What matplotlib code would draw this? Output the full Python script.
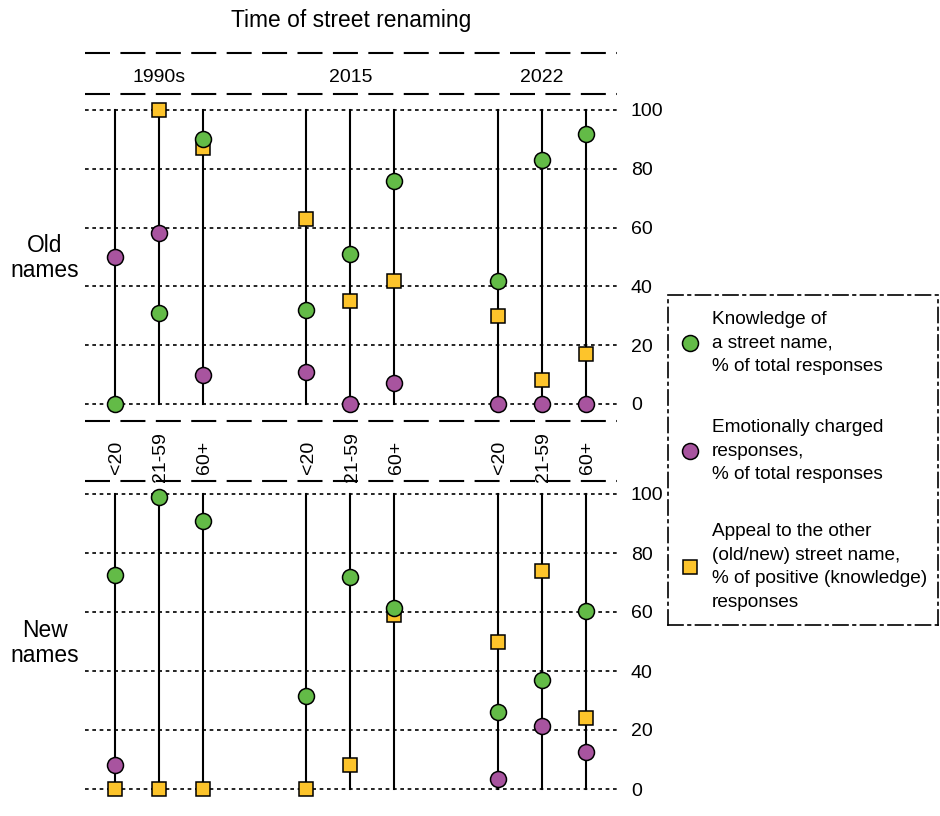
import numpy as np
import matplotlib
matplotlib.use("Agg")
import matplotlib.pyplot as plt
from matplotlib.lines import Line2D
from matplotlib import transforms

plt.rcParams['font.family'] = ['Liberation Sans', 'DejaVu Sans']

# data
periods = ['1990s', '2015', '2022']
ages = ['<20', '21-59', '60+']
nan = np.nan

old_knowledge = [0, 31, 90, 32, 51, 76, 42, 83, 92]
old_emotional = [50, 58, 10, 11, 0, 7, 0, 0, 0]
old_appeal = [nan, 100, 87, 63, 35, 42, 30, 8, 17]

new_knowledge = [72.5, 99, 91, 31.5, 72, 61.5, 26, 37, 60.5]
new_emotional = [8, nan, nan, nan, nan, nan, 3.5, 21.5, 12.5]
new_appeal = [0, 0, 0, 0, 8, 59, 50, 74, 24]

yticks = [0, 20, 40, 60, 80, 100]

green = '#63bb47'
purple = '#a8549f'
yellow = '#fdc42b'

W, H = 940, 816
fig = plt.figure(figsize=(W / 100, H / 100), dpi=100)

# x positions of stems: 3 ages per period, a wider gap between periods
group_gap = 4.35
xpos = [g * group_gap + a for g in range(len(periods)) for a in range(len(ages))]
xlim = (-0.68, 11.41)


def fx(px):
    return px / W


def fy(py):
    return 1 - py / H


def panel(top_px, bottom_px, knowledge, emotional, appeal):
    ax = fig.add_axes([fx(85), fy(bottom_px), fx(617 - 85), fy(top_px) - fy(bottom_px)])
    ax.set_xlim(*xlim)
    ax.set_ylim(0, 100)
    for t in yticks:
        ax.axhline(t, color='black', lw=1.2, ls=(0, (2.2, 2.2)), zorder=1, clip_on=False)
    for x in xpos:
        ax.plot([x, x], [0, 100], color='black', lw=1.5, zorder=2, clip_on=False)
    ax.plot(xpos, appeal, 's', ms=10, mfc=yellow, mec='black', mew=1.1, ls='none', zorder=3, clip_on=False)
    ax.plot(xpos, emotional, 'o', ms=11.5, mfc=purple, mec='black', mew=1.1, ls='none', zorder=4, clip_on=False)
    ax.plot(xpos, knowledge, 'o', ms=11.5, mfc=green, mec='black', mew=1.1, ls='none', zorder=5, clip_on=False)
    for s in ax.spines.values():
        s.set_visible(False)
    ax.set_xticks([])
    ax.yaxis.tick_right()
    ax.set_yticks(yticks)
    ax.tick_params(axis='y', length=0, pad=10, labelsize=14)
    ax.patch.set_alpha(0)
    return ax


ax_old = panel(110, 404, old_knowledge, old_emotional, old_appeal)
ax_new = panel(494, 789, new_knowledge, new_emotional, new_appeal)

# dashed separators
for py in [53, 94, 421, 481]:
    fig.add_artist(Line2D([fx(85), fx(617)], [fy(py), fy(py)], color='black', lw=1.5,
                          ls=(0, (12, 5))))

fig.text(fx(351), fy(20), 'Time of street renaming', ha='center', va='center', fontsize=16.4)

# period and age labels, x in data units, y in figure units
blend = transforms.blended_transform_factory(ax_old.transData, fig.transFigure)
for g, p in enumerate(periods):
    ax_old.text(xpos[g * 3 + 1], fy(77), p, transform=blend, fontsize=14, ha='center', va='center')

for i, x in enumerate(xpos):
    ax_old.text(x + 0.04, fy(457), ages[i % 3], transform=blend, rotation=90, fontsize=14,
                ha='center', va='center', clip_on=False)

fig.text(fx(45), fy(258), 'Old\nnames', ha='center', va='center', fontsize=16.4, linespacing=1.15)
fig.text(fx(45), fy(643), 'New\nnames', ha='center', va='center', fontsize=16.4, linespacing=1.15)

# legend box
lx0, lx1, ly0, ly1 = 668, 938, 295, 625
lg = fig.add_axes([fx(lx0), fy(ly1), fx(lx1 - lx0), fy(ly0) - fy(ly1)])
lg.set_xlim(lx0, lx1)
lg.set_ylim(ly1, ly0)
lg.set_xticks([])
lg.set_yticks([])
for s in lg.spines.values():
    s.set_linestyle((0, (9, 3, 1.5, 3)))
    s.set_linewidth(1.2)

legend_items = [
    ('o', green, 343, 'Knowledge of\na street name,\n% of total responses'),
    ('o', purple, 451, 'Emotionally charged\nresponses,\n% of total responses'),
    ('s', yellow, 567, 'Appeal to the other\n(old/new) street name,\n% of positive (knowledge)\nresponses'),
]
for m, c, y, label in legend_items:
    lg.plot([690], [y], m, ms=11.5 if m == 'o' else 10, mfc=c, mec='black', mew=1.1)
    lg.text(712, y, label, fontsize=13.7, va='center', ha='left', linespacing=1.52)

fig.savefig('out.png', dpi=100)
